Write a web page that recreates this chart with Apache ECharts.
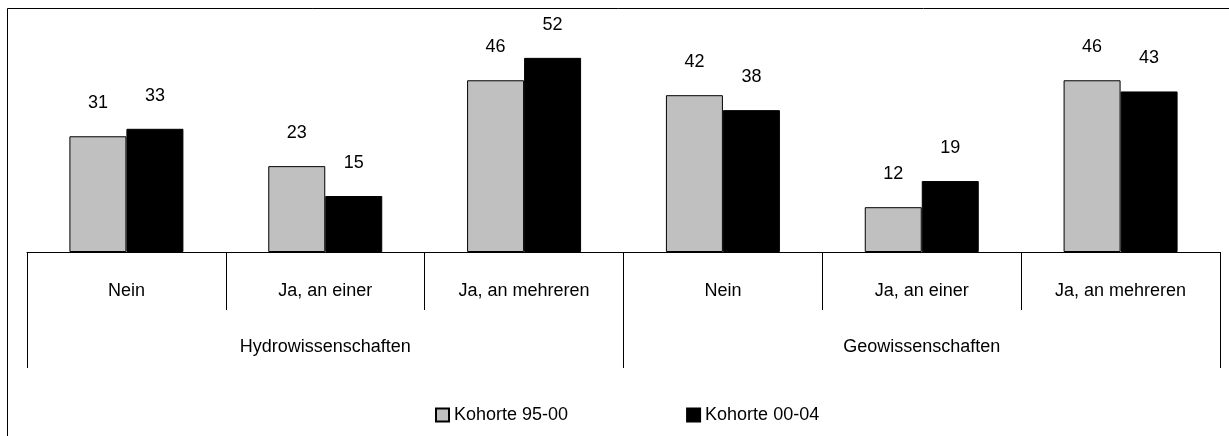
<!DOCTYPE html>
<html>
<head>
<meta charset="utf-8">
<script src="https://cdn.jsdelivr.net/npm/echarts@6/dist/echarts.min.js"></script>
<style>
  html, body { margin: 0; padding: 0; background: #fff; }
  #chart { width: 1229px; height: 436px; }
</style>
</head>
<body>
<div id="chart"></div>
<script>
// Antworten je Fachgruppe (Prozent)
const categories = ['Nein', 'Ja, an einer', 'Ja, an mehreren', 'Nein', 'Ja, an einer', 'Ja, an mehreren'];
const groups = ['Hydrowissenschaften', 'Geowissenschaften'];
const seriesNames = ['Kohorte 95-00', 'Kohorte 00-04'];
const kohorte9500 = [31, 23, 46, 42, 12, 46];
const kohorte0004 = [33, 15, 52, 38, 19, 43];

const FONT = '"Liberation Sans Narrow", "Arial Narrow", "Liberation Sans", sans-serif';
const textBase = { color: '#000', fontFamily: FONT, fontSize: 18 };

const chart = echarts.init(document.getElementById('chart'), null, { renderer: 'canvas' });

chart.setOption({
  animation: false,
  backgroundColor: '#fff',
  grid: { left: 27, right: 9, top: 28, bottom: 184, containLabel: false },
  legend: {
    data: seriesNames.map(function (n) { return { name: n, icon: 'rect' }; }),
    bottom: 7,
    left: 430,
    itemWidth: 13,
    itemHeight: 13,
    itemGap: 118,
    textStyle: Object.assign({}, textBase, { fontSize: 18 })
  },
  xAxis: [
    {
      type: 'category',
      data: categories,
      position: 'bottom',
      axisLine: { show: true, lineStyle: { color: '#000', width: 1 } },
      axisTick: { show: true, interval: 0, length: 58, lineStyle: { color: '#000' } },
      axisLabel: Object.assign({ interval: 0, margin: 30 }, textBase)
    },
    {
      type: 'category',
      data: groups,
      position: 'bottom',
      axisLine: { show: false },
      axisTick: { show: true, interval: 0, length: 116, lineStyle: { color: '#000' } },
      axisLabel: Object.assign({ interval: 0, margin: 86 }, textBase)
    }
  ],
  yAxis: {
    type: 'value',
    min: 0,
    max: 60,
    show: false
  },
  series: [
    {
      name: seriesNames[0],
      type: 'bar',
      data: kohorte9500,
      barWidth: 57,
      barGap: '0%',
      itemStyle: { color: '#c0c0c0', borderColor: '#000', borderWidth: 1 },
      label: Object.assign({ show: true, position: 'top', distance: 24 }, textBase)
    },
    {
      name: seriesNames[1],
      type: 'bar',
      data: kohorte0004,
      barWidth: 57,
      barGap: '0%',
      itemStyle: { color: '#000', borderColor: '#000', borderWidth: 1 },
      label: Object.assign({ show: true, position: 'top', distance: 24 }, textBase)
    }
  ],
  graphic: [
    {
      type: 'polyline',
      shape: { points: [[7.5, 436], [7.5, 8.5], [1229, 8.5]] },
      style: { stroke: '#000', lineWidth: 1, fill: null }
    }
  ]
});
</script>
</body>
</html>
